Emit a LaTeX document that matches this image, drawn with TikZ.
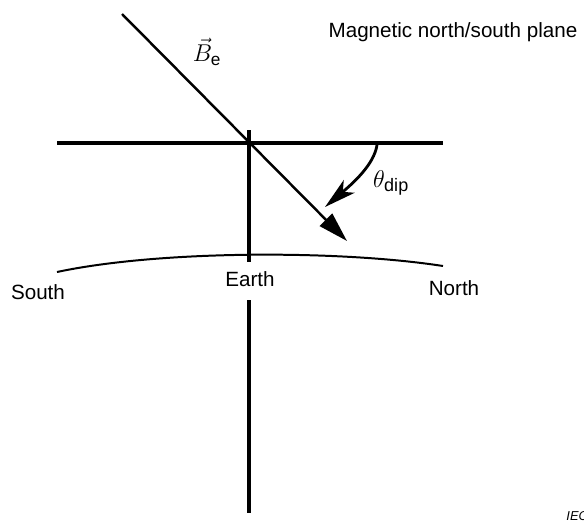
\documentclass[tikz,border=0pt]{standalone}
\usepackage{amsmath}
\usepackage{fontspec}
\setmainfont{Liberation Sans}
\usetikzlibrary{arrows.meta}

\begin{document}
\begin{tikzpicture}[x=0.03cm, y=-0.03cm, thick, font=\fontsize{17.6}{20}\selectfont]
  \useasboundingbox (0,0) rectangle (584,522);
  \coordinate (H1) at (57,143);
  \coordinate (H2) at (443,143);
  \coordinate (V1) at (249,130);
  \coordinate (V2) at (249,262);
  \coordinate (V3) at (249,300);
  \coordinate (V4) at (249,513);
  \coordinate (S) at (57,272);
  \coordinate (N) at (443,266);
  \coordinate (Bs) at (122,14);
  \coordinate (Bt) at (347,241);
  \coordinate (Ts) at (377,145);
  \coordinate (Tt) at (325,207);

  \draw[line width=2.6pt] (H1)--(H2);
  \draw[line width=2.6pt] (V1)--(V2);
  \draw[line width=2.6pt] (V3)--(V4);
  \draw[line width=1.7pt] (S) .. controls (160,250) and (340,250) .. (N);
  \draw[line width=2.1pt, -{Triangle[length=0.9cm, width=0.52cm]}] (Bs)--(Bt);
  \draw[line width=2.4pt, -{Stealth[length=0.95cm, width=0.5cm, inset=0.25cm]}]
    (Ts) .. controls (374,165) and (352,184) .. (Tt);

  \node (title) at (453,32) {Magnetic north/south plane};
  \node (south) at (38,292) {South};
  \node (north) at (454,288) {North};
  \node (earth) at (250,279) {Earth};
  \node[font=\fontsize{21}{24}\selectfont] (bvec) at (207,52) {$\vec{B}_{\text{e}}$};
  \node[font=\fontsize{22}{25}\selectfont] (dip) at (391,183) {$\theta_{\text{dip}}$};
  \node[anchor=north west, font=\fontsize{11}{13}\selectfont\itshape, inner sep=0pt] (iec) at (566,511) {IEC};
\end{tikzpicture}
\end{document}
